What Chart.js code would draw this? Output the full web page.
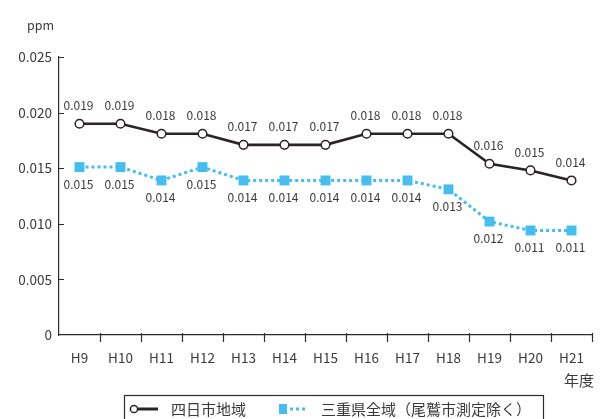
<!DOCTYPE html>
<html><head><meta charset="utf-8">
<script src="https://cdn.jsdelivr.net/npm/chart.js@4/dist/chart.umd.min.js"></script>
<style>html,body{margin:0;padding:0;background:#fff;}canvas{display:block;}</style>
</head><body>
<canvas id="c" width="600" height="419"></canvas>
<script>
const categories = ['H9','H10','H11','H12','H13','H14','H15','H16','H17','H18','H19','H20','H21'];
const yokkaichiValues = [0.0190,0.0190,0.0181,0.0181,0.0171,0.0171,0.0171,0.0181,0.0181,0.0181,0.0154,0.0148,0.0139];
const yokkaichiLabels = ['0.019','0.019','0.018','0.018','0.017','0.017','0.017','0.018','0.018','0.018','0.016','0.015','0.014'];
const mieValues = [0.0151,0.0151,0.0139,0.0151,0.0139,0.0139,0.0139,0.0139,0.0139,0.0131,0.0102,0.0094,0.0094];
const mieLabels = ['0.015','0.015','0.014','0.015','0.014','0.014','0.014','0.014','0.014','0.013','0.012','0.011','0.011'];
const yTicks = [0,0.005,0.010,0.015,0.020,0.025];
const yTickLabels = ['0','0.005','0.010','0.015','0.020','0.025'];
const seriesNames = ['四日市地域','三重県全域（尾鷲市測定除く）'];
const unitLabel = 'ppm';
const xAxisTitle = '年度';

const FONT = "'Noto Sans CJK JP', 'Noto Sans', sans-serif";
const TEXT = '#3a3a3a';
const AXIS = '#2f2b2b';
const BLACK = '#2b2424';
const BLUE = '#45bdee';

const extras = {
  id: 'extras',
  afterDatasetsDraw(chart) {
    const ctx = chart.ctx;
    const xs = chart.scales.x, ys = chart.scales.y;
    const area = chart.chartArea;
    ctx.save();
    // axis tick marks
    ctx.strokeStyle = AXIS; ctx.lineWidth = 1.2;
    ctx.beginPath();
    for (let i = 1; i < yTicks.length; i++) {
      const y = Math.round(ys.getPixelForValue(yTicks[i])) + 0.5;
      ctx.moveTo(area.left, y); ctx.lineTo(area.left + 5, y);
    }
    for (let i = 0; i < categories.length; i++) {
      const x = Math.round((xs.getPixelForValue(i) + xs.getPixelForValue(i) ) / 2 + (xs.getPixelForValue(1) - xs.getPixelForValue(0)) / 2) + 0.5;
      ctx.moveTo(x, area.bottom - 2); ctx.lineTo(x, area.bottom + 7);
    }
    ctx.stroke();
    // data labels
    ctx.fillStyle = TEXT;
    ctx.font = '12px ' + FONT;
    ctx.textAlign = 'center'; ctx.textBaseline = 'middle';
    const m0 = chart.getDatasetMeta(0), m1 = chart.getDatasetMeta(1);
    m0.data.forEach((p, j) => ctx.fillText(yokkaichiLabels[j], p.x - 1, p.y - 18));
    m1.data.forEach((p, j) => ctx.fillText(mieLabels[j], p.x - 1, p.y + 17));
    ctx.restore();
  },
  afterDraw(chart) {
    const ctx = chart.ctx;
    ctx.save();
    ctx.fillStyle = TEXT;
    ctx.textBaseline = 'middle';
    ctx.font = '12.5px ' + FONT;
    ctx.textAlign = 'left';
    ctx.fillText(unitLabel, 27, 25);
    ctx.font = '15px ' + FONT;
    ctx.textAlign = 'right';
    ctx.fillText(xAxisTitle, 594, 380);
    // legend box
    ctx.strokeStyle = AXIS; ctx.lineWidth = 1.2;
    ctx.strokeRect(124.5, 395.5, 419, 40);
    // item 1
    ctx.strokeStyle = BLACK; ctx.lineWidth = 3;
    ctx.beginPath(); ctx.moveTo(137, 409); ctx.lineTo(158, 409); ctx.stroke();
    ctx.lineWidth = 1.5; ctx.fillStyle = '#fff';
    ctx.beginPath(); ctx.arc(134, 409, 3.6, 0, Math.PI * 2); ctx.fill(); ctx.stroke();
    ctx.fillStyle = TEXT; ctx.textAlign = 'left'; ctx.font = '15px ' + FONT;
    ctx.fillText(seriesNames[0], 171, 409);
    // item 2
    ctx.fillStyle = BLUE;
    ctx.fillRect(279, 404, 8, 10);
    ctx.fillRect(290, 407.5, 3, 3);
    ctx.fillRect(296, 407.5, 3, 3);
    ctx.fillRect(302, 407.5, 3, 3);
    ctx.fillStyle = TEXT;
    ctx.fillText(seriesNames[1], 321, 409);
    ctx.restore();
  }
};

new Chart(document.getElementById('c'), {
  type: 'line',
  data: {
    labels: categories,
    datasets: [
      { label: seriesNames[0], data: yokkaichiValues, borderColor: BLACK, borderWidth: 2.6,
        pointStyle: 'circle', pointRadius: 4.3, pointBorderWidth: 1.5,
        pointBackgroundColor: '#fff', pointBorderColor: BLACK, tension: 0, fill: false },
      { label: seriesNames[1], data: mieValues, borderColor: BLUE, borderWidth: 3, borderDash: [3, 3],
        pointStyle: 'rect', pointRadius: 7, pointBorderWidth: 0,
        pointBackgroundColor: BLUE, pointBorderColor: BLUE, tension: 0, fill: false }
    ]
  },
  options: {
    responsive: false,
    devicePixelRatio: 1,
    animation: false,
    layout: { padding: { top: 57, right: 8, left: 0, bottom: 0 } },
    plugins: { legend: { display: false }, tooltip: { enabled: false } },
    scales: {
      x: {
        type: 'category', offset: true,
        grid: { display: false, drawTicks: false },
        border: { display: true, color: AXIS, width: 1.2 },
        ticks: { color: TEXT, font: { family: FONT, size: 13.5 }, padding: 15, autoSkip: false, maxRotation: 0 },
        afterFit(s) { s.height = 84; }
      },
      y: {
        min: 0, max: 0.025,
        grid: { display: false, drawTicks: false },
        border: { display: true, color: AXIS, width: 1.2 },
        afterBuildTicks(s) { s.ticks = yTicks.map(v => ({ value: v })); },
        ticks: { color: TEXT, font: { family: FONT, size: 13.5 }, padding: 7,
          callback: (v) => yTickLabels[yTicks.indexOf(v)] ?? '' },
        afterFit(s) { s.width = 59; }
      }
    }
  },
  plugins: [extras]
});
</script>
</body></html>
